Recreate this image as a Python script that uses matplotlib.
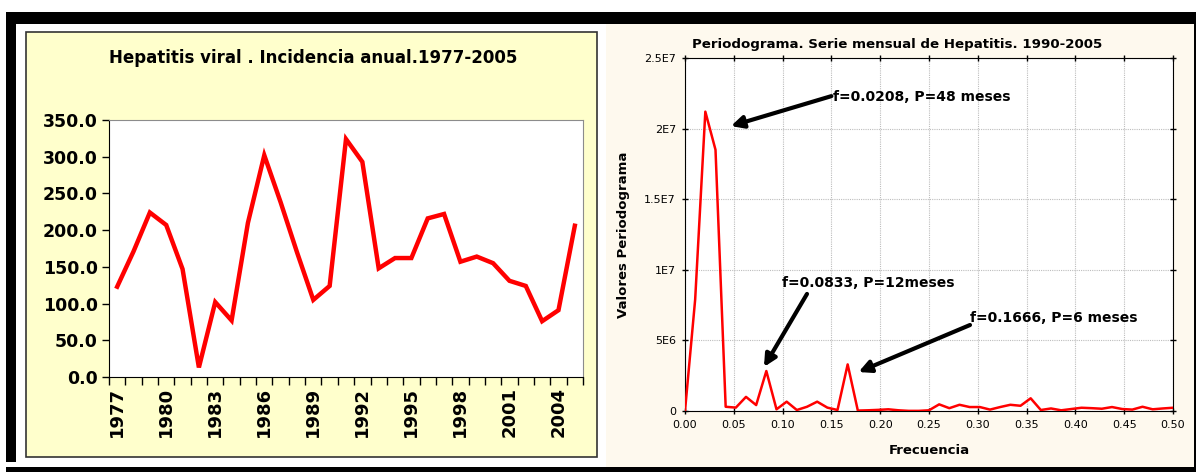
import numpy as np
import matplotlib
matplotlib.use("Agg")
import matplotlib.pyplot as plt
from matplotlib.patches import Rectangle

W, H = 1196, 472

# ── data ──────────────────────────────────────────────────────────────────────
years = list(range(1977, 2006))
incidence = [123, 171, 224, 207, 147, 13, 102, 77, 210, 302,
             238, 170, 105, 124, 324, 293, 148, 162, 162, 216,
             222, 157, 164, 155, 131, 124, 76, 91, 206]

freq_k = list(range(0, 49))          # harmonic index, f = k / 96
period_vals = [0.0, 7.9, 21.2, 18.5, 0.30, 0.24, 1.0, 0.42, 2.83, 0.12,
               0.66, 0.07, 0.30, 0.66, 0.24, 0.07, 3.3, 0.03, 0.05, 0.08,
               0.12, 0.05, 0.01, 0.01, 0.05, 0.47, 0.20, 0.44, 0.28, 0.28,
               0.10, 0.28, 0.44, 0.37, 0.90, 0.07, 0.18, 0.05, 0.14, 0.23,
               0.20, 0.16, 0.28, 0.14, 0.10, 0.30, 0.12, 0.18, 0.23]  # x 1E6

y_tick_vals = [0, 5e6, 1e7, 1.5e7, 2e7, 2.5e7]
y_tick_labels = ["0", "5E6", "1E7", "1.5E7", "2E7", "2.5E7"]

RED = "#ff0000"
YELLOW = "#ffffcc"
CREAM = "#fef9ee"


def px_axes(fig, left, top, right, bottom):
    return fig.add_axes([left / W, 1 - bottom / H, (right - left) / W, (bottom - top) / H])


fig = plt.figure(figsize=(W / 100, H / 100), dpi=100, facecolor="white")

# background frame drawn in pixel coordinates
bg = fig.add_axes([0, 0, 1, 1], zorder=-5)
bg.set_xlim(0, W)
bg.set_ylim(H, 0)
bg.axis("off")
for x0, y0, w, h in [(6, 12, 1190, 12), (6, 12, 10, 450), (6, 467, 1190, 5), (1194, 12, 2, 460)]:
    bg.add_patch(Rectangle((x0, y0), w, h, facecolor="black", edgecolor="none"))
bg.add_patch(Rectangle((26, 32), 571, 425, facecolor=YELLOW, edgecolor="#333333", lw=1.2))
bg.add_patch(Rectangle((606, 24), 588, 443, facecolor=CREAM, edgecolor="none"))

# ── left: annual incidence ────────────────────────────────────────────────────
ax = px_axes(fig, 109, 120, 583, 377)
ax.set_facecolor("white")
idx = np.arange(len(years))
ax.plot(idx, incidence, color=RED, lw=3.2, solid_joinstyle="miter", clip_on=False)
ax.set_xlim(-0.5, len(years) - 0.5)
ax.set_ylim(0, 350)
ax.set_yticks(np.arange(0, 351, 50))
ax.set_yticklabels([f"{v:.1f}" for v in np.arange(0, 351, 50)],
                   fontsize=12.5, fontweight="bold", family="DejaVu Sans")
ax.set_xticks(idx[::3])
ax.set_xticklabels([str(y) for y in years[::3]], rotation=90,
                   fontsize=13, fontweight="bold", family="DejaVu Sans")
ax.set_xticks(np.arange(-0.5, len(years)), minor=True)
ax.tick_params(axis="x", which="major", length=0, pad=7)
ax.tick_params(axis="x", which="minor", length=6, width=1, color="black")
ax.tick_params(axis="y", length=5, width=1, pad=3)
for s in ["top", "right"]:
    ax.spines[s].set_color("#8c8c8c")
for s in ["left", "bottom"]:
    ax.spines[s].set_color("black")
ax.set_title("Hepatitis viral . Incidencia anual.1977-2005", fontsize=12,
             fontweight="bold", family="DejaVu Sans", x=0.43, pad=41)

# ── right: periodogram ────────────────────────────────────────────────────────
ax2 = px_axes(fig, 685, 58, 1173, 411)
ax2.set_facecolor("white")
f = np.array(freq_k) / 96.0
ax2.plot(f, np.array(period_vals) * 1e6, color=RED, lw=1.8, zorder=3)
ax2.set_xlim(0, 0.5)
ax2.set_ylim(0, 2.5e7)
ax2.set_xticks(np.arange(0, 0.501, 0.05))
ax2.set_xticklabels([f"{v:.2f}" for v in np.arange(0, 0.501, 0.05)], fontsize=8)
ax2.set_yticks(y_tick_vals)
ax2.set_yticklabels(y_tick_labels, fontsize=8)
ax2.tick_params(direction="inout", length=5, width=1, top=True, right=True,
                labeltop=False, labelright=False, pad=4)
ax2.grid(True, color="#bdbdbd", linestyle=(0, (1, 1)), lw=0.8)
ax2.set_axisbelow(True)
for s in ax2.spines.values():
    s.set_color("black")
ax2.set_xlabel("Frecuencia", fontsize=9.5, fontweight="bold", labelpad=10)
ax2.set_ylabel("Valores Periodograma", fontsize=9.5, fontweight="bold", labelpad=10)
ax2.set_title("Periodograma. Serie mensual de Hepatitis. 1990-2005", fontsize=9.6,
              fontweight="bold", x=0.434, pad=7)

arrow = dict(arrowstyle="-|>", color="black", lw=3, mutation_scale=18, shrinkA=0, shrinkB=0)
notes = [
    ("f=0.0208, P=48 meses", (0.1516, 2.224e7), (0.150, 2.23e7), (0.0471, 2.018e7)),
    ("f=0.0833, P=12meses", (0.0994, 9.07e6), (0.125, 8.29e6), (0.0809, 3.12e6)),
    ("f=0.1666, P=6 meses", (0.292, 6.59e6), (0.292, 6.09e6), (0.1778, 2.76e6)),
]
for label, txt_xy, tail, head in notes:
    ax2.annotate("", xy=head, xytext=tail, arrowprops=arrow, zorder=5)
    ax2.text(txt_xy[0], txt_xy[1], label, fontsize=10, fontweight="bold",
             ha="left", va="center", zorder=6)

fig.savefig("out.png", dpi=100, facecolor="white")
